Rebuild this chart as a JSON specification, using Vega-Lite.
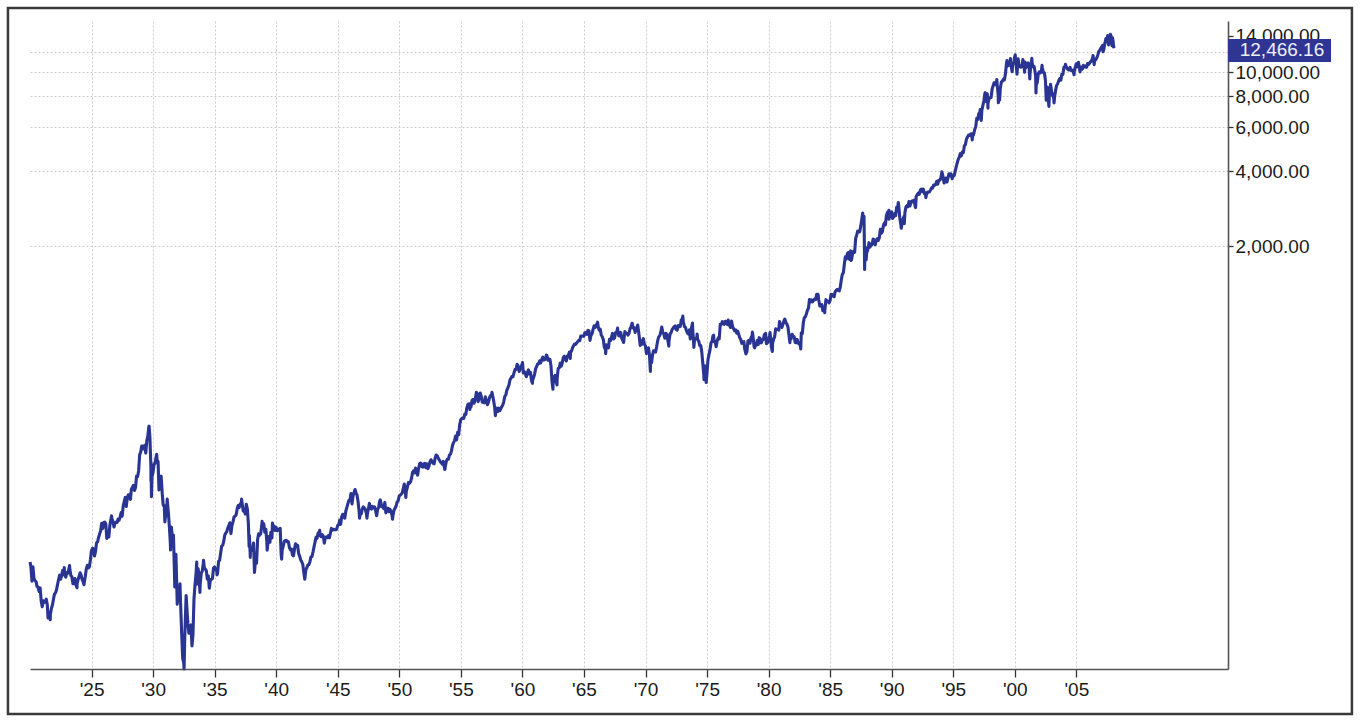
{
"$schema": "https://vega.github.io/schema/vega-lite/v6.json",
"width": 1198,
"height": 648,
"autosize": {"type": "none"},
"padding": {"left": 30, "top": 21, "right": 133, "bottom": 54},
"background": "white",
"config": {"view": {"stroke": null}, "font": "Liberation Sans"},
"datasets": {"dow": [
{"d":"1920-01-03","v":108.8},{"d":"1920-01-28","v":104.2},{"d":"1920-02-28","v":91.2},{"d":"1920-03-28","v":104.2},{"d":"1920-04-28","v":93.5},{"d":"1920-05-28","v":91.8},{"d":"1920-06-28","v":90.8},{"d":"1920-07-28","v":86.9},{"d":"1920-08-28","v":86.2},{"d":"1920-09-28","v":82.9},{"d":"1920-10-28","v":85.7},{"d":"1920-11-28","v":76.0},{"d":"1920-12-28","v":72.0},
{"d":"1921-01-28","v":76.1},{"d":"1921-02-28","v":74.9},{"d":"1921-03-28","v":75.8},{"d":"1921-04-28","v":77.3},{"d":"1921-05-28","v":73.4},{"d":"1921-06-20","v":64.9},{"d":"1921-06-28","v":68.5},{"d":"1921-07-28","v":68.4},{"d":"1921-08-24","v":63.9},{"d":"1921-08-28","v":67.1},{"d":"1921-09-28","v":71.1},{"d":"1921-10-28","v":73.2},{"d":"1921-11-28","v":77.3},{"d":"1921-12-28","v":81.1},
{"d":"1922-01-28","v":82.0},{"d":"1922-02-28","v":84.5},{"d":"1922-03-28","v":88.5},{"d":"1922-04-28","v":92.6},{"d":"1922-05-28","v":96.4},{"d":"1922-06-28","v":92.9},{"d":"1922-07-28","v":96.1},{"d":"1922-08-28","v":100.8},{"d":"1922-09-28","v":97.0},{"d":"1922-10-14","v":103.4},{"d":"1922-10-28","v":96.1},{"d":"1922-11-28","v":94.7},{"d":"1922-12-28","v":98.7},
{"d":"1923-01-28","v":98.1},{"d":"1923-02-28","v":102.4},{"d":"1923-03-20","v":105.4},{"d":"1923-03-28","v":101.7},{"d":"1923-04-28","v":96.2},{"d":"1923-05-28","v":95.1},{"d":"1923-06-28","v":89.1},{"d":"1923-07-28","v":89.2},{"d":"1923-08-28","v":93.5},{"d":"1923-09-28","v":87.9},{"d":"1923-10-27","v":85.8},{"d":"1923-10-29","v":89.1},{"d":"1923-11-28","v":92.6},{"d":"1923-12-28","v":95.5},
{"d":"1924-01-28","v":98.6},{"d":"1924-02-28","v":96.3},{"d":"1924-03-28","v":92.5},{"d":"1924-04-28","v":90.6},{"d":"1924-05-20","v":88.3},{"d":"1924-05-28","v":90.0},{"d":"1924-06-28","v":95.3},{"d":"1924-07-28","v":102.1},{"d":"1924-08-28","v":105.6},{"d":"1924-09-28","v":103.0},{"d":"1924-10-28","v":104.1},{"d":"1924-11-28","v":111.4},{"d":"1924-12-28","v":120.5},
{"d":"1925-01-28","v":123.6},{"d":"1925-02-28","v":122.9},{"d":"1925-03-28","v":115.0},{"d":"1925-04-28","v":120.0},{"d":"1925-05-28","v":129.9},{"d":"1925-06-28","v":131.0},{"d":"1925-07-28","v":136.5},{"d":"1925-08-28","v":141.2},{"d":"1925-09-28","v":145.2},{"d":"1925-10-28","v":155.7},{"d":"1925-11-28","v":148.2},{"d":"1925-12-28","v":156.7},
{"d":"1926-01-28","v":157.4},{"d":"1926-02-28","v":154.7},{"d":"1926-03-28","v":135.2},{"d":"1926-04-28","v":142.5},{"d":"1926-05-28","v":137.2},{"d":"1926-06-28","v":152.7},{"d":"1926-07-28","v":160.6},{"d":"1926-08-14","v":166.6},{"d":"1926-08-28","v":162.5},{"d":"1926-09-28","v":158.2},{"d":"1926-10-28","v":150.4},{"d":"1926-11-28","v":155.8},{"d":"1926-12-28","v":157.2},
{"d":"1927-01-28","v":156.7},{"d":"1927-02-28","v":161.9},{"d":"1927-03-28","v":160.1},{"d":"1927-04-28","v":164.6},{"d":"1927-05-28","v":171.8},{"d":"1927-06-28","v":166.2},{"d":"1927-07-28","v":182.4},{"d":"1927-08-28","v":190.6},{"d":"1927-09-28","v":197.6},{"d":"1927-10-28","v":181.7},{"d":"1927-11-28","v":197.8},{"d":"1927-12-28","v":202.4},
{"d":"1928-01-28","v":198.6},{"d":"1928-02-28","v":194.1},{"d":"1928-03-28","v":213.5},{"d":"1928-04-28","v":216.9},{"d":"1928-05-28","v":220.9},{"d":"1928-06-28","v":210.8},{"d":"1928-07-28","v":216.6},{"d":"1928-08-28","v":240.4},{"d":"1928-09-28","v":239.4},{"d":"1928-10-28","v":252.2},{"d":"1928-11-28","v":293.4},{"d":"1928-12-28","v":300.0},
{"d":"1929-01-28","v":317.5},{"d":"1929-02-28","v":317.4},{"d":"1929-03-28","v":308.9},{"d":"1929-04-28","v":319.3},{"d":"1929-05-28","v":297.4},{"d":"1929-06-28","v":333.8},{"d":"1929-07-28","v":347.7},{"d":"1929-08-28","v":380.3},{"d":"1929-09-03","v":381.2},{"d":"1929-09-28","v":343.5},{"d":"1929-10-28","v":260.6},{"d":"1929-10-29","v":230.1},{"d":"1929-10-31","v":273.5},{"d":"1929-11-13","v":198.7},{"d":"1929-11-28","v":238.9},{"d":"1929-12-28","v":248.5},
{"d":"1930-01-28","v":267.1},{"d":"1930-02-28","v":271.1},{"d":"1930-03-28","v":286.1},{"d":"1930-04-17","v":294.1},{"d":"1930-04-28","v":279.2},{"d":"1930-05-28","v":275.1},{"d":"1930-06-24","v":211.8},{"d":"1930-06-28","v":226.3},{"d":"1930-07-28","v":233.5},{"d":"1930-08-28","v":240.4},{"d":"1930-09-28","v":204.9},{"d":"1930-10-28","v":183.4},{"d":"1930-11-28","v":183.4},{"d":"1930-12-16","v":157.5},{"d":"1930-12-28","v":164.6},
{"d":"1931-01-28","v":167.6},{"d":"1931-02-24","v":194.4},{"d":"1931-02-28","v":189.7},{"d":"1931-03-28","v":172.4},{"d":"1931-04-28","v":151.2},{"d":"1931-05-28","v":128.5},{"d":"1931-06-02","v":121.7},{"d":"1931-06-28","v":150.2},{"d":"1931-07-28","v":135.4},{"d":"1931-08-28","v":139.4},{"d":"1931-09-28","v":96.6},{"d":"1931-10-05","v":86.5},{"d":"1931-10-28","v":105.4},{"d":"1931-11-09","v":116.8},{"d":"1931-11-28","v":93.9},{"d":"1931-12-17","v":73.8},{"d":"1931-12-28","v":77.9},
{"d":"1932-01-28","v":76.2},{"d":"1932-02-28","v":81.4},{"d":"1932-03-08","v":89.0},{"d":"1932-03-28","v":73.3},{"d":"1932-04-28","v":56.1},{"d":"1932-05-28","v":44.7},{"d":"1932-06-28","v":42.8},{"d":"1932-07-08","v":40.6},{"d":"1932-07-28","v":54.3},{"d":"1932-08-28","v":73.2},{"d":"1932-09-07","v":79.9},{"d":"1932-09-28","v":71.6},{"d":"1932-10-28","v":61.9},{"d":"1932-11-28","v":56.4},{"d":"1932-12-28","v":59.9},
{"d":"1933-01-28","v":60.9},{"d":"1933-02-27","v":50.2},{"d":"1933-03-28","v":55.7},{"d":"1933-04-28","v":77.7},{"d":"1933-05-28","v":88.1},{"d":"1933-06-28","v":98.1},{"d":"1933-07-18","v":108.7},{"d":"1933-07-21","v":88.7},{"d":"1933-07-28","v":90.8},{"d":"1933-08-28","v":102.4},{"d":"1933-09-28","v":94.8},{"d":"1933-10-21","v":82.2},{"d":"1933-10-28","v":88.2},{"d":"1933-11-28","v":98.1},{"d":"1933-12-28","v":99.9},
{"d":"1934-01-28","v":107.2},{"d":"1934-02-05","v":110.7},{"d":"1934-02-28","v":103.5},{"d":"1934-03-28","v":101.9},{"d":"1934-04-28","v":100.5},{"d":"1934-05-28","v":93.0},{"d":"1934-06-28","v":95.7},{"d":"1934-07-26","v":85.5},{"d":"1934-08-28","v":92.6},{"d":"1934-09-28","v":92.6},{"d":"1934-10-28","v":93.5},{"d":"1934-11-28","v":102.9},{"d":"1934-12-28","v":104.0},
{"d":"1935-01-28","v":101.7},{"d":"1935-02-28","v":100.8},{"d":"1935-03-14","v":96.7},{"d":"1935-03-28","v":98.0},{"d":"1935-04-28","v":109.5},{"d":"1935-05-28","v":110.6},{"d":"1935-06-28","v":118.2},{"d":"1935-07-28","v":126.2},{"d":"1935-08-28","v":127.0},{"d":"1935-09-28","v":131.9},{"d":"1935-10-28","v":139.7},{"d":"1935-11-28","v":142.3},{"d":"1935-12-28","v":144.1},
{"d":"1936-01-28","v":149.5},{"d":"1936-02-28","v":152.5},{"d":"1936-03-28","v":156.3},{"d":"1936-04-28","v":141.5},{"d":"1936-05-28","v":152.6},{"d":"1936-06-28","v":157.7},{"d":"1936-07-28","v":164.9},{"d":"1936-08-28","v":166.3},{"d":"1936-09-28","v":167.8},{"d":"1936-10-28","v":177.2},{"d":"1936-11-28","v":183.3},{"d":"1936-12-28","v":179.9},
{"d":"1937-01-28","v":186.1},{"d":"1937-02-28","v":187.2},{"d":"1937-03-10","v":194.4},{"d":"1937-03-28","v":186.4},{"d":"1937-04-28","v":174.3},{"d":"1937-05-28","v":174.7},{"d":"1937-06-28","v":169.3},{"d":"1937-07-28","v":185.5},{"d":"1937-08-28","v":177.4},{"d":"1937-09-28","v":154.6},{"d":"1937-10-19","v":125.7},{"d":"1937-10-28","v":138.8},{"d":"1937-11-24","v":113.6},{"d":"1937-11-28","v":123.5},{"d":"1937-12-28","v":121.0},
{"d":"1938-01-28","v":121.9},{"d":"1938-02-28","v":129.6},{"d":"1938-03-28","v":98.9},{"d":"1938-04-28","v":111.7},{"d":"1938-05-28","v":107.7},{"d":"1938-06-28","v":133.9},{"d":"1938-07-28","v":141.2},{"d":"1938-08-28","v":139.3},{"d":"1938-09-28","v":141.5},{"d":"1938-10-28","v":151.7},{"d":"1938-11-10","v":158.4},{"d":"1938-11-28","v":149.8},{"d":"1938-12-28","v":154.8},
{"d":"1939-01-28","v":143.3},{"d":"1939-02-28","v":147.3},{"d":"1939-03-28","v":131.8},{"d":"1939-04-08","v":121.4},{"d":"1939-04-28","v":128.5},{"d":"1939-05-28","v":137.7},{"d":"1939-06-28","v":130.6},{"d":"1939-07-28","v":143.3},{"d":"1939-08-28","v":136.0},{"d":"1939-09-12","v":155.9},{"d":"1939-09-28","v":152.5},{"d":"1939-10-28","v":151.7},{"d":"1939-11-28","v":145.7},{"d":"1939-12-28","v":150.2},
{"d":"1940-01-28","v":145.3},{"d":"1940-02-28","v":146.5},{"d":"1940-03-28","v":147.5},{"d":"1940-04-28","v":148.4},{"d":"1940-05-28","v":116.2},{"d":"1940-06-10","v":111.8},{"d":"1940-06-28","v":121.9},{"d":"1940-07-28","v":126.1},{"d":"1940-08-28","v":131.7},{"d":"1940-09-28","v":132.6},{"d":"1940-10-28","v":133.0},{"d":"1940-11-28","v":131.0},{"d":"1940-12-28","v":131.1},
{"d":"1941-01-28","v":124.1},{"d":"1941-02-28","v":121.8},{"d":"1941-03-28","v":122.7},{"d":"1941-04-28","v":116.2},{"d":"1941-05-28","v":115.3},{"d":"1941-06-28","v":123.1},{"d":"1941-07-28","v":128.8},{"d":"1941-08-28","v":127.4},{"d":"1941-09-28","v":126.8},{"d":"1941-10-28","v":117.8},{"d":"1941-11-28","v":114.7},{"d":"1941-12-28","v":111.0},
{"d":"1942-01-28","v":109.1},{"d":"1942-02-28","v":106.6},{"d":"1942-03-28","v":99.5},{"d":"1942-04-28","v":92.9},{"d":"1942-05-28","v":100.9},{"d":"1942-06-28","v":103.3},{"d":"1942-07-28","v":105.7},{"d":"1942-08-28","v":106.3},{"d":"1942-09-28","v":109.1},{"d":"1942-10-28","v":114.1},{"d":"1942-11-28","v":114.5},{"d":"1942-12-28","v":119.4},
{"d":"1943-01-28","v":125.4},{"d":"1943-02-28","v":131.0},{"d":"1943-03-28","v":136.6},{"d":"1943-04-28","v":135.5},{"d":"1943-05-28","v":142.1},{"d":"1943-06-28","v":143.4},{"d":"1943-07-14","v":145.8},{"d":"1943-07-28","v":138.9},{"d":"1943-08-28","v":137.5},{"d":"1943-09-28","v":140.1},{"d":"1943-10-28","v":138.3},{"d":"1943-11-28","v":129.6},{"d":"1943-12-28","v":135.9},
{"d":"1944-01-28","v":137.4},{"d":"1944-02-28","v":136.3},{"d":"1944-03-28","v":138.8},{"d":"1944-04-28","v":136.2},{"d":"1944-05-28","v":142.2},{"d":"1944-06-28","v":148.4},{"d":"1944-07-28","v":146.1},{"d":"1944-08-28","v":147.2},{"d":"1944-09-28","v":146.7},{"d":"1944-10-28","v":146.5},{"d":"1944-11-28","v":147.3},{"d":"1944-12-28","v":152.3},
{"d":"1945-01-28","v":153.8},{"d":"1945-02-28","v":160.4},{"d":"1945-03-28","v":154.1},{"d":"1945-04-28","v":165.4},{"d":"1945-05-28","v":169.1},{"d":"1945-06-28","v":164.8},{"d":"1945-07-28","v":163.1},{"d":"1945-08-28","v":174.3},{"d":"1945-09-28","v":180.2},{"d":"1945-10-28","v":186.6},{"d":"1945-11-28","v":192.0},{"d":"1945-12-28","v":192.9},
{"d":"1946-01-28","v":204.7},{"d":"1946-02-26","v":186.0},{"d":"1946-03-28","v":199.6},{"d":"1946-04-28","v":206.8},{"d":"1946-05-29","v":212.5},{"d":"1946-06-28","v":205.6},{"d":"1946-07-28","v":201.6},{"d":"1946-08-28","v":189.2},{"d":"1946-09-28","v":172.4},{"d":"1946-10-09","v":163.1},{"d":"1946-10-28","v":169.2},{"d":"1946-11-28","v":169.8},{"d":"1946-12-28","v":177.2},
{"d":"1947-01-28","v":181.1},{"d":"1947-02-28","v":178.9},{"d":"1947-03-28","v":177.2},{"d":"1947-04-28","v":170.6},{"d":"1947-05-17","v":163.2},{"d":"1947-05-28","v":169.3},{"d":"1947-06-28","v":177.3},{"d":"1947-07-28","v":186.9},{"d":"1947-08-28","v":179.0},{"d":"1947-09-28","v":177.5},{"d":"1947-10-28","v":181.8},{"d":"1947-11-28","v":179.4},{"d":"1947-12-28","v":181.2},
{"d":"1948-01-28","v":175.1},{"d":"1948-02-28","v":166.8},{"d":"1948-03-28","v":177.2},{"d":"1948-04-28","v":180.1},{"d":"1948-05-28","v":190.7},{"d":"1948-06-15","v":193.2},{"d":"1948-06-28","v":189.5},{"d":"1948-07-28","v":181.3},{"d":"1948-08-28","v":181.7},{"d":"1948-09-28","v":178.3},{"d":"1948-10-28","v":188.6},{"d":"1948-11-28","v":171.2},{"d":"1948-12-28","v":177.3},
{"d":"1949-01-28","v":179.1},{"d":"1949-02-28","v":173.1},{"d":"1949-03-28","v":177.1},{"d":"1949-04-28","v":174.2},{"d":"1949-05-28","v":168.4},{"d":"1949-06-13","v":161.6},{"d":"1949-06-28","v":167.4},{"d":"1949-07-28","v":175.9},{"d":"1949-08-28","v":178.7},{"d":"1949-09-28","v":182.5},{"d":"1949-10-28","v":189.5},{"d":"1949-11-28","v":191.6},{"d":"1949-12-28","v":200.1},
{"d":"1950-01-28","v":201.8},{"d":"1950-02-28","v":203.4},{"d":"1950-03-28","v":206.1},{"d":"1950-04-28","v":214.3},{"d":"1950-05-28","v":223.4},{"d":"1950-06-28","v":209.1},{"d":"1950-07-13","v":197.5},{"d":"1950-07-28","v":209.4},{"d":"1950-08-28","v":216.9},{"d":"1950-09-28","v":226.4},{"d":"1950-10-28","v":225.0},{"d":"1950-11-28","v":227.6},{"d":"1950-12-28","v":235.4},
{"d":"1951-01-28","v":248.8},{"d":"1951-02-28","v":252.1},{"d":"1951-03-28","v":247.9},{"d":"1951-04-28","v":259.1},{"d":"1951-05-28","v":249.7},{"d":"1951-06-28","v":242.6},{"d":"1951-07-28","v":257.9},{"d":"1951-08-28","v":270.3},{"d":"1951-09-28","v":271.2},{"d":"1951-10-28","v":262.4},{"d":"1951-11-28","v":261.3},{"d":"1951-12-28","v":269.2},
{"d":"1952-01-28","v":270.7},{"d":"1952-02-28","v":260.1},{"d":"1952-03-28","v":269.5},{"d":"1952-04-28","v":257.6},{"d":"1952-05-28","v":262.9},{"d":"1952-06-28","v":274.3},{"d":"1952-07-28","v":279.6},{"d":"1952-08-28","v":275.0},{"d":"1952-09-28","v":271.0},{"d":"1952-10-28","v":269.2},{"d":"1952-11-28","v":283.7},{"d":"1952-12-28","v":291.9},
{"d":"1953-01-28","v":290.0},{"d":"1953-02-28","v":284.3},{"d":"1953-03-28","v":279.9},{"d":"1953-04-28","v":274.8},{"d":"1953-05-28","v":272.3},{"d":"1953-06-28","v":268.3},{"d":"1953-07-28","v":275.4},{"d":"1953-08-28","v":261.2},{"d":"1953-09-14","v":255.5},{"d":"1953-09-28","v":264.0},{"d":"1953-10-28","v":276.0},{"d":"1953-11-28","v":281.4},{"d":"1953-12-28","v":280.9},
{"d":"1954-01-28","v":292.4},{"d":"1954-02-28","v":294.5},{"d":"1954-03-28","v":303.5},{"d":"1954-04-28","v":319.3},{"d":"1954-05-28","v":327.5},{"d":"1954-06-28","v":333.5},{"d":"1954-07-28","v":347.9},{"d":"1954-08-28","v":335.8},{"d":"1954-09-28","v":360.5},{"d":"1954-10-28","v":352.1},{"d":"1954-11-28","v":386.8},{"d":"1954-12-28","v":404.4},
{"d":"1955-01-28","v":408.8},{"d":"1955-02-28","v":411.9},{"d":"1955-03-28","v":409.7},{"d":"1955-04-28","v":425.7},{"d":"1955-05-28","v":424.9},{"d":"1955-06-28","v":451.4},{"d":"1955-07-28","v":465.9},{"d":"1955-08-28","v":468.2},{"d":"1955-09-26","v":444.6},{"d":"1955-09-28","v":466.6},{"d":"1955-10-28","v":454.9},{"d":"1955-11-28","v":483.3},{"d":"1955-12-28","v":488.4},
{"d":"1956-01-28","v":470.7},{"d":"1956-02-28","v":483.7},{"d":"1956-03-28","v":511.8},{"d":"1956-04-06","v":521.0},{"d":"1956-04-28","v":516.1},{"d":"1956-05-28","v":478.1},{"d":"1956-06-28","v":492.8},{"d":"1956-07-28","v":517.8},{"d":"1956-08-28","v":502.0},{"d":"1956-09-28","v":475.3},{"d":"1956-10-28","v":479.9},{"d":"1956-11-28","v":472.8},{"d":"1956-12-28","v":499.5},
{"d":"1957-01-28","v":479.2},{"d":"1957-02-28","v":464.6},{"d":"1957-03-28","v":474.8},{"d":"1957-04-28","v":494.4},{"d":"1957-05-28","v":504.9},{"d":"1957-06-28","v":503.3},{"d":"1957-07-12","v":520.8},{"d":"1957-07-28","v":508.5},{"d":"1957-08-28","v":484.4},{"d":"1957-09-28","v":456.3},{"d":"1957-10-22","v":419.8},{"d":"1957-10-28","v":441.0},{"d":"1957-11-28","v":449.9},{"d":"1957-12-28","v":435.7},
{"d":"1958-01-28","v":450.0},{"d":"1958-02-28","v":439.9},{"d":"1958-03-28","v":446.8},{"d":"1958-04-28","v":455.9},{"d":"1958-05-28","v":462.7},{"d":"1958-06-28","v":478.2},{"d":"1958-07-28","v":502.0},{"d":"1958-08-28","v":508.6},{"d":"1958-09-28","v":532.1},{"d":"1958-10-28","v":543.2},{"d":"1958-11-28","v":557.5},{"d":"1958-12-28","v":583.7},
{"d":"1959-01-28","v":594.0},{"d":"1959-02-28","v":603.5},{"d":"1959-03-28","v":601.7},{"d":"1959-04-28","v":624.1},{"d":"1959-05-28","v":643.8},{"d":"1959-06-28","v":643.6},{"d":"1959-07-28","v":674.9},{"d":"1959-08-28","v":664.4},{"d":"1959-09-28","v":631.7},{"d":"1959-10-28","v":646.6},{"d":"1959-11-28","v":659.2},{"d":"1959-12-28","v":679.4},
{"d":"1960-01-05","v":685.5},{"d":"1960-01-28","v":622.6},{"d":"1960-02-28","v":630.1},{"d":"1960-03-28","v":616.6},{"d":"1960-04-28","v":601.7},{"d":"1960-05-28","v":625.5},{"d":"1960-06-28","v":640.6},{"d":"1960-07-28","v":616.7},{"d":"1960-08-28","v":626.0},{"d":"1960-09-28","v":580.1},{"d":"1960-10-25","v":566.1},{"d":"1960-10-28","v":580.4},{"d":"1960-11-28","v":597.2},{"d":"1960-12-28","v":615.9},
{"d":"1961-01-28","v":648.2},{"d":"1961-02-28","v":662.1},{"d":"1961-03-28","v":676.6},{"d":"1961-04-28","v":678.7},{"d":"1961-05-28","v":696.7},{"d":"1961-06-28","v":684.0},{"d":"1961-07-28","v":705.4},{"d":"1961-08-28","v":719.9},{"d":"1961-09-28","v":701.2},{"d":"1961-10-28","v":703.9},{"d":"1961-11-28","v":721.6},{"d":"1961-12-13","v":734.9},{"d":"1961-12-28","v":731.1},
{"d":"1962-01-28","v":700.0},{"d":"1962-02-28","v":708.1},{"d":"1962-03-28","v":707.0},{"d":"1962-04-28","v":665.3},{"d":"1962-05-28","v":576.9},{"d":"1962-06-26","v":535.8},{"d":"1962-06-28","v":561.3},{"d":"1962-07-28","v":597.9},{"d":"1962-08-28","v":609.2},{"d":"1962-09-28","v":579.0},{"d":"1962-10-23","v":558.1},{"d":"1962-10-28","v":589.8},{"d":"1962-11-28","v":649.3},{"d":"1962-12-28","v":652.1},
{"d":"1963-01-28","v":682.9},{"d":"1963-02-28","v":662.9},{"d":"1963-03-28","v":682.5},{"d":"1963-04-28","v":717.7},{"d":"1963-05-28","v":727.0},{"d":"1963-06-28","v":706.9},{"d":"1963-07-28","v":695.4},{"d":"1963-08-28","v":729.3},{"d":"1963-09-28","v":732.8},{"d":"1963-10-28","v":755.2},{"d":"1963-11-22","v":711.5},{"d":"1963-11-28","v":750.5},{"d":"1963-12-28","v":763.0},
{"d":"1964-01-28","v":785.3},{"d":"1964-02-28","v":800.1},{"d":"1964-03-28","v":813.3},{"d":"1964-04-28","v":810.8},{"d":"1964-05-28","v":820.6},{"d":"1964-06-28","v":831.5},{"d":"1964-07-28","v":841.1},{"d":"1964-08-28","v":838.5},{"d":"1964-09-28","v":875.4},{"d":"1964-10-28","v":873.1},{"d":"1964-11-28","v":875.4},{"d":"1964-12-28","v":874.1},
{"d":"1965-01-28","v":902.9},{"d":"1965-02-28","v":903.5},{"d":"1965-03-28","v":889.1},{"d":"1965-04-28","v":922.3},{"d":"1965-05-28","v":918.0},{"d":"1965-06-28","v":840.6},{"d":"1965-07-28","v":881.7},{"d":"1965-08-28","v":893.1},{"d":"1965-09-28","v":930.6},{"d":"1965-10-28","v":960.8},{"d":"1965-11-28","v":946.7},{"d":"1965-12-28","v":969.3},
{"d":"1966-01-28","v":983.5},{"d":"1966-02-09","v":995.2},{"d":"1966-02-28","v":951.9},{"d":"1966-03-28","v":924.8},{"d":"1966-04-28","v":933.7},{"d":"1966-05-28","v":884.1},{"d":"1966-06-28","v":870.1},{"d":"1966-07-28","v":847.4},{"d":"1966-08-28","v":788.4},{"d":"1966-09-28","v":774.2},{"d":"1966-10-07","v":744.3},{"d":"1966-10-28","v":807.1},{"d":"1966-11-28","v":791.6},{"d":"1966-12-28","v":785.7},
{"d":"1967-01-28","v":849.9},{"d":"1967-02-28","v":839.4},{"d":"1967-03-28","v":866.0},{"d":"1967-04-28","v":897.1},{"d":"1967-05-28","v":852.6},{"d":"1967-06-28","v":860.3},{"d":"1967-07-28","v":904.2},{"d":"1967-08-28","v":901.3},{"d":"1967-09-25","v":943.1},{"d":"1967-09-28","v":926.7},{"d":"1967-10-28","v":879.7},{"d":"1967-11-28","v":875.8},{"d":"1967-12-28","v":905.1},
{"d":"1968-01-28","v":855.5},{"d":"1968-02-28","v":840.5},{"d":"1968-03-21","v":825.1},{"d":"1968-03-28","v":840.7},{"d":"1968-04-28","v":912.2},{"d":"1968-05-28","v":899.0},{"d":"1968-06-28","v":897.8},{"d":"1968-07-28","v":883.0},{"d":"1968-08-28","v":896.0},{"d":"1968-09-28","v":935.8},{"d":"1968-10-28","v":952.4},{"d":"1968-11-28","v":985.1},{"d":"1968-12-03","v":985.2},{"d":"1968-12-28","v":943.8},
{"d":"1969-01-28","v":946.1},{"d":"1969-02-28","v":905.2},{"d":"1969-03-28","v":935.5},{"d":"1969-04-28","v":950.2},{"d":"1969-05-14","v":968.9},{"d":"1969-05-28","v":937.6},{"d":"1969-06-28","v":873.2},{"d":"1969-07-28","v":802.0},{"d":"1969-08-28","v":836.7},{"d":"1969-09-28","v":813.1},{"d":"1969-10-28","v":856.0},{"d":"1969-11-28","v":812.3},{"d":"1969-12-28","v":800.4},
{"d":"1970-01-28","v":744.1},{"d":"1970-02-28","v":777.6},{"d":"1970-03-28","v":785.6},{"d":"1970-04-28","v":736.1},{"d":"1970-05-26","v":631.2},{"d":"1970-05-28","v":700.4},{"d":"1970-06-28","v":683.5},{"d":"1970-07-28","v":734.1},{"d":"1970-08-28","v":764.6},{"d":"1970-09-28","v":760.7},{"d":"1970-10-28","v":755.6},{"d":"1970-11-28","v":794.1},{"d":"1970-12-28","v":838.9},
{"d":"1971-01-28","v":868.5},{"d":"1971-02-28","v":878.8},{"d":"1971-03-28","v":904.4},{"d":"1971-04-28","v":950.8},{"d":"1971-05-28","v":907.8},{"d":"1971-06-28","v":891.1},{"d":"1971-07-28","v":858.4},{"d":"1971-08-28","v":898.1},{"d":"1971-09-28","v":887.2},{"d":"1971-10-28","v":839.0},{"d":"1971-11-23","v":798.0},{"d":"1971-11-28","v":831.3},{"d":"1971-12-28","v":890.2},
{"d":"1972-01-28","v":902.2},{"d":"1972-02-28","v":928.1},{"d":"1972-03-28","v":940.7},{"d":"1972-04-28","v":954.2},{"d":"1972-05-28","v":960.7},{"d":"1972-06-28","v":929.0},{"d":"1972-07-28","v":924.7},{"d":"1972-08-28","v":963.7},{"d":"1972-09-28","v":953.3},{"d":"1972-10-28","v":955.5},{"d":"1972-11-28","v":1018.2},{"d":"1972-12-28","v":1020.0},
{"d":"1973-01-11","v":1051.7},{"d":"1973-01-28","v":999.0},{"d":"1973-02-28","v":955.1},{"d":"1973-03-28","v":951.0},{"d":"1973-04-28","v":921.4},{"d":"1973-05-28","v":901.4},{"d":"1973-06-28","v":891.7},{"d":"1973-07-28","v":926.4},{"d":"1973-08-22","v":851.9},{"d":"1973-08-28","v":887.6},{"d":"1973-09-28","v":947.1},{"d":"1973-10-26","v":987.1},{"d":"1973-10-28","v":956.6},{"d":"1973-11-28","v":822.3},{"d":"1973-12-05","v":788.3},{"d":"1973-12-28","v":850.9},
{"d":"1974-01-28","v":855.6},{"d":"1974-02-28","v":860.5},{"d":"1974-03-13","v":891.7},{"d":"1974-03-28","v":846.7},{"d":"1974-04-28","v":836.8},{"d":"1974-05-28","v":802.2},{"d":"1974-06-28","v":802.4},{"d":"1974-07-28","v":757.4},{"d":"1974-08-28","v":678.6},{"d":"1974-09-28","v":607.9},{"d":"1974-10-03","v":584.6},{"d":"1974-10-28","v":665.5},{"d":"1974-11-28","v":618.7},{"d":"1974-12-06","v":570.0},{"d":"1974-12-28","v":616.2},
{"d":"1975-01-28","v":703.7},{"d":"1975-02-28","v":739.1},{"d":"1975-03-28","v":768.2},{"d":"1975-04-28","v":821.3},{"d":"1975-05-28","v":832.3},{"d":"1975-06-28","v":879.0},{"d":"1975-07-15","v":881.8},{"d":"1975-07-28","v":831.5},{"d":"1975-08-28","v":835.3},{"d":"1975-09-28","v":793.9},{"d":"1975-10-28","v":836.0},{"d":"1975-11-28","v":860.7},{"d":"1975-12-28","v":852.4},
{"d":"1976-01-28","v":975.3},{"d":"1976-02-28","v":972.6},{"d":"1976-03-28","v":999.5},{"d":"1976-04-28","v":996.9},{"d":"1976-05-28","v":975.2},{"d":"1976-06-28","v":1002.8},{"d":"1976-07-28","v":984.6},{"d":"1976-08-28","v":973.7},{"d":"1976-09-21","v":1014.8},{"d":"1976-09-28","v":990.2},{"d":"1976-10-28","v":964.9},{"d":"1976-11-28","v":947.2},{"d":"1976-12-28","v":1004.7},
{"d":"1977-01-28","v":954.4},{"d":"1977-02-28","v":936.4},{"d":"1977-03-28","v":919.1},{"d":"1977-04-28","v":926.9},{"d":"1977-05-28","v":899.0},{"d":"1977-06-28","v":916.3},{"d":"1977-07-28","v":890.1},{"d":"1977-08-28","v":861.5},{"d":"1977-09-28","v":847.1},{"d":"1977-10-28","v":818.4},{"d":"1977-11-28","v":829.7},{"d":"1977-12-28","v":831.2},
{"d":"1978-01-28","v":769.9},{"d":"1978-02-28","v":742.1},{"d":"1978-03-28","v":757.4},{"d":"1978-04-28","v":837.3},{"d":"1978-05-28","v":840.6},{"d":"1978-06-28","v":819.0},{"d":"1978-07-28","v":862.3},{"d":"1978-08-28","v":876.8},{"d":"1978-09-08","v":907.7},{"d":"1978-09-28","v":865.8},{"d":"1978-10-28","v":792.5},{"d":"1978-11-14","v":785.3},{"d":"1978-11-28","v":799.0},{"d":"1978-12-28","v":805.0},
{"d":"1979-01-28","v":839.2},{"d":"1979-02-28","v":808.8},{"d":"1979-03-28","v":862.2},{"d":"1979-04-28","v":854.9},{"d":"1979-05-28","v":822.3},{"d":"1979-06-28","v":842.0},{"d":"1979-07-28","v":846.4},{"d":"1979-08-28","v":887.6},{"d":"1979-09-28","v":878.6},{"d":"1979-10-05","v":897.6},{"d":"1979-10-28","v":815.7},{"d":"1979-11-28","v":822.4},{"d":"1979-12-28","v":838.7},
{"d":"1980-01-28","v":875.9},{"d":"1980-02-13","v":903.8},{"d":"1980-02-28","v":863.1},{"d":"1980-03-28","v":785.8},{"d":"1980-04-21","v":759.1},{"d":"1980-04-28","v":817.1},{"d":"1980-05-28","v":850.9},{"d":"1980-06-28","v":867.9},{"d":"1980-07-28","v":935.3},{"d":"1980-08-28","v":932.6},{"d":"1980-09-28","v":932.4},{"d":"1980-10-28","v":924.5},{"d":"1980-11-20","v":1000.2},{"d":"1980-11-28","v":993.3},{"d":"1980-12-28","v":964.0},
{"d":"1981-01-28","v":947.3},{"d":"1981-02-28","v":974.6},{"d":"1981-03-28","v":1003.9},{"d":"1981-04-27","v":1024.1},{"d":"1981-05-28","v":991.8},{"d":"1981-06-28","v":976.9},{"d":"1981-07-28","v":952.3},{"d":"1981-08-28","v":881.5},{"d":"1981-09-25","v":824.0},{"d":"1981-09-28","v":850.0},{"d":"1981-10-28","v":852.6},{"d":"1981-11-28","v":889.0},{"d":"1981-12-28","v":875.0},
{"d":"1982-01-28","v":871.1},{"d":"1982-02-28","v":824.4},{"d":"1982-03-28","v":822.8},{"d":"1982-04-28","v":848.4},{"d":"1982-05-28","v":819.5},{"d":"1982-06-28","v":811.9},{"d":"1982-07-28","v":808.6},{"d":"1982-08-12","v":776.9},{"d":"1982-08-28","v":901.3},{"d":"1982-09-28","v":896.3},{"d":"1982-10-28","v":991.7},{"d":"1982-11-28","v":1039.3},{"d":"1982-12-28","v":1046.5},
{"d":"1983-01-28","v":1075.7},{"d":"1983-02-28","v":1112.6},{"d":"1983-03-28","v":1130.0},{"d":"1983-04-28","v":1226.2},{"d":"1983-05-28","v":1200.0},{"d":"1983-06-28","v":1222.0},{"d":"1983-07-28","v":1199.2},{"d":"1983-08-28","v":1216.2},{"d":"1983-09-28","v":1233.1},{"d":"1983-10-28","v":1225.2},{"d":"1983-11-28","v":1287.2},{"d":"1983-12-28","v":1258.6},
{"d":"1984-01-06","v":1286.6},{"d":"1984-01-28","v":1220.6},{"d":"1984-02-28","v":1154.6},{"d":"1984-03-28","v":1164.9},{"d":"1984-04-28","v":1170.8},{"d":"1984-05-28","v":1104.9},{"d":"1984-06-28","v":1132.4},{"d":"1984-07-24","v":1086.6},{"d":"1984-07-28","v":1115.3},{"d":"1984-08-28","v":1224.4},{"d":"1984-09-28","v":1206.7},{"d":"1984-10-28","v":1207.4},{"d":"1984-11-28","v":1188.9},{"d":"1984-12-28","v":1211.6},
{"d":"1985-01-28","v":1286.8},{"d":"1985-02-28","v":1284.0},{"d":"1985-03-28","v":1266.8},{"d":"1985-04-28","v":1258.1},{"d":"1985-05-28","v":1315.4},{"d":"1985-06-28","v":1335.5},{"d":"1985-07-28","v":1347.5},{"d":"1985-08-28","v":1334.0},{"d":"1985-09-28","v":1328.6},{"d":"1985-10-28","v":1374.3},{"d":"1985-11-28","v":1472.1},{"d":"1985-12-28","v":1546.7},
{"d":"1986-01-28","v":1571.0},{"d":"1986-02-28","v":1709.1},{"d":"1986-03-28","v":1818.6},{"d":"1986-04-28","v":1784.0},{"d":"1986-05-28","v":1876.7},{"d":"1986-06-28","v":1892.7},{"d":"1986-07-28","v":1775.3},{"d":"1986-08-28","v":1898.3},{"d":"1986-09-04","v":1919.7},{"d":"1986-09-12","v":1758.7},{"d":"1986-09-28","v":1767.6},{"d":"1986-10-28","v":1877.8},{"d":"1986-11-28","v":1914.2},{"d":"1986-12-28","v":1896.0},
{"d":"1987-01-28","v":2158.0},{"d":"1987-02-28","v":2224.0},{"d":"1987-03-28","v":2304.7},{"d":"1987-04-28","v":2286.4},{"d":"1987-05-28","v":2291.6},{"d":"1987-06-28","v":2418.5},{"d":"1987-07-28","v":2572.1},{"d":"1987-08-25","v":2722.4},{"d":"1987-08-28","v":2663.0},{"d":"1987-09-28","v":2596.3},{"d":"1987-10-02","v":2641.0},{"d":"1987-10-19","v":1738.7},{"d":"1987-10-20","v":1616.2},{"d":"1987-10-28","v":1846.5},{"d":"1987-10-30","v":1993.5},{"d":"1987-11-28","v":1910.5},{"d":"1987-12-04","v":1766.7},{"d":"1987-12-28","v":1938.8},
{"d":"1988-01-08","v":1911.3},{"d":"1988-01-28","v":1958.2},{"d":"1988-02-28","v":2071.6},{"d":"1988-03-28","v":1988.1},{"d":"1988-04-28","v":2032.3},{"d":"1988-05-28","v":2031.1},{"d":"1988-06-28","v":2141.7},{"d":"1988-07-28","v":2128.7},{"d":"1988-08-28","v":2031.7},{"d":"1988-09-28","v":2112.9},{"d":"1988-10-28","v":2148.7},{"d":"1988-11-28","v":2114.5},{"d":"1988-12-28","v":2168.6},
{"d":"1989-01-28","v":2342.3},{"d":"1989-02-28","v":2258.4},{"d":"1989-03-28","v":2293.6},{"d":"1989-04-28","v":2418.8},{"d":"1989-05-28","v":2480.2},{"d":"1989-06-28","v":2440.1},{"d":"1989-07-28","v":2660.7},{"d":"1989-08-28","v":2737.3},{"d":"1989-09-28","v":2692.8},{"d":"1989-10-09","v":2791.4},{"d":"1989-10-13","v":2569.3},{"d":"1989-10-28","v":2645.1},{"d":"1989-11-28","v":2706.3},{"d":"1989-12-28","v":2753.2},
{"d":"1990-01-28","v":2590.5},{"d":"1990-02-28","v":2627.3},{"d":"1990-03-28","v":2707.2},{"d":"1990-04-28","v":2656.8},{"d":"1990-05-28","v":2876.7},{"d":"1990-06-28","v":2880.7},{"d":"1990-07-16","v":2999.8},{"d":"1990-07-28","v":2905.2},{"d":"1990-08-28","v":2614.4},{"d":"1990-09-28","v":2452.5},{"d":"1990-10-11","v":2365.1},{"d":"1990-10-28","v":2442.3},{"d":"1990-11-28","v":2559.7},{"d":"1990-12-28","v":2633.7},
{"d":"1991-01-09","v":2470.3},{"d":"1991-01-28","v":2736.4},{"d":"1991-02-28","v":2882.2},{"d":"1991-03-28","v":2913.9},{"d":"1991-04-28","v":2887.9},{"d":"1991-05-28","v":3027.5},{"d":"1991-06-28","v":2906.8},{"d":"1991-07-28","v":3024.8},{"d":"1991-08-28","v":3043.6},{"d":"1991-09-28","v":3016.8},{"d":"1991-10-28","v":3069.1},{"d":"1991-11-28","v":2894.7},{"d":"1991-12-10","v":2863.8},{"d":"1991-12-28","v":3168.8},
{"d":"1992-01-28","v":3223.4},{"d":"1992-02-28","v":3267.7},{"d":"1992-03-28","v":3235.5},{"d":"1992-04-28","v":3359.1},{"d":"1992-05-28","v":3396.9},{"d":"1992-06-28","v":3318.5},{"d":"1992-07-28","v":3393.8},{"d":"1992-08-28","v":3257.4},{"d":"1992-09-28","v":3271.7},{"d":"1992-10-09","v":3136.6},{"d":"1992-10-28","v":3226.3},{"d":"1992-11-28","v":3305.2},{"d":"1992-12-28","v":3301.1},
{"d":"1993-01-28","v":3310.0},{"d":"1993-02-28","v":3370.8},{"d":"1993-03-28","v":3435.1},{"d":"1993-04-28","v":3427.6},{"d":"1993-05-28","v":3527.4},{"d":"1993-06-28","v":3516.1},{"d":"1993-07-28","v":3539.5},{"d":"1993-08-28","v":3651.3},{"d":"1993-09-28","v":3555.1},{"d":"1993-10-28","v":3680.6},{"d":"1993-11-28","v":3684.0},{"d":"1993-12-28","v":3754.1},
{"d":"1994-01-28","v":3978.4},{"d":"1994-02-28","v":3832.0},{"d":"1994-03-28","v":3636.0},{"d":"1994-04-04","v":3593.4},{"d":"1994-04-28","v":3681.7},{"d":"1994-05-28","v":3758.4},{"d":"1994-06-28","v":3625.0},{"d":"1994-07-28","v":3764.5},{"d":"1994-08-28","v":3913.4},{"d":"1994-09-28","v":3843.2},{"d":"1994-10-28","v":3908.1},{"d":"1994-11-28","v":3739.2},{"d":"1994-12-28","v":3834.4},
{"d":"1995-01-28","v":3843.9},{"d":"1995-02-28","v":4011.1},{"d":"1995-03-28","v":4157.7},{"d":"1995-04-28","v":4321.3},{"d":"1995-05-28","v":4465.1},{"d":"1995-06-28","v":4556.1},{"d":"1995-07-28","v":4708.5},{"d":"1995-08-28","v":4610.6},{"d":"1995-09-28","v":4789.1},{"d":"1995-10-28","v":4755.5},{"d":"1995-11-28","v":5074.5},{"d":"1995-12-28","v":5117.1},
{"d":"1996-01-28","v":5395.3},{"d":"1996-02-28","v":5485.6},{"d":"1996-03-28","v":5587.1},{"d":"1996-04-28","v":5569.1},{"d":"1996-05-28","v":5643.2},{"d":"1996-06-28","v":5654.6},{"d":"1996-07-16","v":5346.6},{"d":"1996-07-28","v":5528.9},{"d":"1996-08-28","v":5616.2},{"d":"1996-09-28","v":5882.2},{"d":"1996-10-28","v":6029.4},{"d":"1996-11-28","v":6521.7},{"d":"1996-12-28","v":6448.3},
{"d":"1997-01-28","v":6813.1},{"d":"1997-02-28","v":6877.7},{"d":"1997-03-11","v":7079.4},{"d":"1997-03-28","v":6583.5},{"d":"1997-04-11","v":6391.7},{"d":"1997-04-28","v":7009.0},{"d":"1997-05-28","v":7331.0},{"d":"1997-06-28","v":7672.8},{"d":"1997-07-28","v":8222.6},{"d":"1997-08-06","v":8259.3},{"d":"1997-08-28","v":7622.4},{"d":"1997-09-28","v":7945.3},{"d":"1997-10-07","v":8178.3},{"d":"1997-10-27","v":7161.2},{"d":"1997-10-28","v":7498.3},{"d":"1997-11-28","v":7823.1},{"d":"1997-12-28","v":7908.3},
{"d":"1998-01-28","v":7906.5},{"d":"1998-02-28","v":8545.7},{"d":"1998-03-28","v":8799.8},{"d":"1998-04-28","v":9063.4},{"d":"1998-05-28","v":8900.0},{"d":"1998-06-28","v":8952.0},{"d":"1998-07-17","v":9338.0},{"d":"1998-07-28","v":8883.3},{"d":"1998-08-28","v":8051.7},{"d":"1998-08-31","v":7539.1},{"d":"1998-09-28","v":7842.6},{"d":"1998-10-08","v":7731.9},{"d":"1998-10-28","v":8592.1},{"d":"1998-11-28","v":9116.6},{"d":"1998-12-28","v":9181.4},
{"d":"1999-01-28","v":9358.8},{"d":"1999-02-28","v":9306.6},{"d":"1999-03-28","v":9786.2},{"d":"1999-04-28","v":10789.0},{"d":"1999-05-13","v":11107.2},{"d":"1999-05-28","v":10559.7},{"d":"1999-06-28","v":10970.8},{"d":"1999-07-28","v":10655.2},{"d":"1999-08-25","v":11326.0},{"d":"1999-08-28","v":10829.3},{"d":"1999-09-28","v":10337.0},{"d":"1999-10-15","v":10019.7},{"d":"1999-10-28","v":10729.9},{"d":"1999-11-28","v":10877.8},{"d":"1999-12-28","v":11497.1},
{"d":"2000-01-14","v":11723.0},{"d":"2000-01-28","v":10940.5},{"d":"2000-02-28","v":10128.3},{"d":"2000-03-07","v":9796.0},{"d":"2000-03-28","v":10921.9},{"d":"2000-04-11","v":11287.1},{"d":"2000-04-28","v":10733.9},{"d":"2000-05-28","v":10522.3},{"d":"2000-06-28","v":10447.9},{"d":"2000-07-28","v":10522.0},{"d":"2000-08-28","v":11215.1},{"d":"2000-09-28","v":10650.9},{"d":"2000-10-18","v":9975.0},{"d":"2000-10-28","v":10971.1},{"d":"2000-11-28","v":10414.5},{"d":"2000-12-28","v":10788.0},
{"d":"2001-01-28","v":10887.4},{"d":"2001-02-28","v":10495.3},{"d":"2001-03-22","v":9389.5},{"d":"2001-03-28","v":9878.8},{"d":"2001-04-28","v":10735.0},{"d":"2001-05-21","v":11337.9},{"d":"2001-05-28","v":10911.9},{"d":"2001-06-28","v":10502.4},{"d":"2001-07-28","v":10522.8},{"d":"2001-08-28","v":9949.8},{"d":"2001-09-10","v":9605.5},{"d":"2001-09-21","v":8235.8},{"d":"2001-09-28","v":8847.6},{"d":"2001-10-28","v":9075.1},{"d":"2001-11-28","v":9851.6},{"d":"2001-12-28","v":10021.5},
{"d":"2002-01-28","v":9920.0},{"d":"2002-02-28","v":10106.1},{"d":"2002-03-19","v":10635.3},{"d":"2002-03-28","v":10403.9},{"d":"2002-04-28","v":9946.2},{"d":"2002-05-28","v":9925.3},{"d":"2002-06-28","v":9243.3},{"d":"2002-07-23","v":7702.3},{"d":"2002-07-28","v":8736.6},{"d":"2002-08-28","v":8663.5},{"d":"2002-09-28","v":7591.9},{"d":"2002-10-09","v":7286.3},{"d":"2002-10-28","v":8397.0},{"d":"2002-11-27","v":8931.7},{"d":"2002-12-28","v":8341.6},
{"d":"2003-01-28","v":8053.8},{"d":"2003-02-28","v":7891.1},{"d":"2003-03-11","v":7524.1},{"d":"2003-03-28","v":7992.1},{"d":"2003-04-28","v":8480.1},{"d":"2003-05-28","v":8850.3},{"d":"2003-06-28","v":8985.4},{"d":"2003-07-28","v":9233.8},{"d":"2003-08-28","v":9415.8},{"d":"2003-09-28","v":9275.1},{"d":"2003-10-28","v":9801.1},{"d":"2003-11-28","v":9782.5},{"d":"2003-12-28","v":10453.9},
{"d":"2004-01-28","v":10488.1},{"d":"2004-02-11","v":10737.7},{"d":"2004-02-28","v":10583.9},{"d":"2004-03-28","v":10357.7},{"d":"2004-04-28","v":10225.6},{"d":"2004-05-28","v":10188.5},{"d":"2004-06-28","v":10435.5},{"d":"2004-07-28","v":10139.7},{"d":"2004-08-28","v":10173.9},{"d":"2004-09-28","v":10080.3},{"d":"2004-10-25","v":9750.0},{"d":"2004-10-28","v":10027.5},{"d":"2004-11-28","v":10428.0},{"d":"2004-12-28","v":10783.0},
{"d":"2005-01-28","v":10489.9},{"d":"2005-02-28","v":10766.2},{"d":"2005-03-04","v":10940.6},{"d":"2005-03-28","v":10503.8},{"d":"2005-04-20","v":10012.4},{"d":"2005-04-28","v":10192.5},{"d":"2005-05-28","v":10467.5},{"d":"2005-06-28","v":10275.0},{"d":"2005-07-28","v":10640.9},{"d":"2005-08-28","v":10481.6},{"d":"2005-09-28","v":10568.7},{"d":"2005-10-28","v":10440.1},{"d":"2005-11-28","v":10805.9},{"d":"2005-12-28","v":10717.5},
{"d":"2006-01-28","v":10864.9},{"d":"2006-02-28","v":10993.4},{"d":"2006-03-28","v":11109.3},{"d":"2006-04-28","v":11367.1},{"d":"2006-05-10","v":11642.7},{"d":"2006-05-28","v":11168.3},{"d":"2006-06-13","v":10706.1},{"d":"2006-06-28","v":11150.2},{"d":"2006-07-28","v":11185.7},{"d":"2006-08-28","v":11381.2},{"d":"2006-09-28","v":11679.1},{"d":"2006-10-28","v":12080.7},{"d":"2006-11-28","v":12221.9},{"d":"2006-12-28","v":12463.2},
{"d":"2007-01-28","v":12621.7},{"d":"2007-02-20","v":12786.6},{"d":"2007-03-05","v":12050.4},{"d":"2007-03-28","v":12354.4},{"d":"2007-04-28","v":13062.9},{"d":"2007-05-28","v":13627.6},{"d":"2007-06-28","v":13408.6},{"d":"2007-07-19","v":14000.4},{"d":"2007-07-28","v":13212.0},{"d":"2007-08-16","v":12845.8},{"d":"2007-08-28","v":13357.7},{"d":"2007-09-28","v":13895.6},{"d":"2007-10-09","v":14164.5},{"d":"2007-10-28","v":13930.0},{"d":"2007-11-26","v":12743.4},{"d":"2007-12-10","v":13727.0},{"d":"2007-12-28","v":13264.8},
{"d":"2008-01-02","v":13044.0},{"d":"2008-01-08","v":12589.1},{"d":"2008-01-14","v":12778.2},{"d":"2008-01-16","v":12466.16}
]},
"layer": [
{
"data": {"name": "dow"},
"mark": {"type": "line", "color": "#2A3492", "strokeWidth": 3.1, "strokeJoin": "round", "clip": false},
"encoding": {
"x": {"field": "d", "type": "temporal",
"scale": {"domain": [{"year": 1920, "month": 1, "date": 1}, {"year": 2017, "month": 4, "date": 27}], "nice": false},
"axis": {"title": null, "orient": "bottom",
"values": [{"year":1925,"month":1,"date":1},{"year":1930,"month":1,"date":1},{"year":1935,"month":1,"date":1},{"year":1940,"month":1,"date":1},{"year":1945,"month":1,"date":1},{"year":1950,"month":1,"date":1},{"year":1955,"month":1,"date":1},{"year":1960,"month":1,"date":1},{"year":1965,"month":1,"date":1},{"year":1970,"month":1,"date":1},{"year":1975,"month":1,"date":1},{"year":1980,"month":1,"date":1},{"year":1985,"month":1,"date":1},{"year":1990,"month":1,"date":1},{"year":1995,"month":1,"date":1},{"year":2000,"month":1,"date":1},{"year":2005,"month":1,"date":1}],
"labelExpr": "\"'\" + timeFormat(datum.value, '%y')",
"grid": true, "gridColor": "#cccccc", "gridDash": [2, 2], "gridWidth": 1,
"domainColor": "#555555", "domainWidth": 1.6,
"tickColor": "#333333", "tickSize": 8, "tickWidth": 1.3,
"labelFont": "Liberation Sans", "labelFontSize": 19, "labelColor": "#1a1a1a", "labelPadding": 3,
"labelFlush": false, "labelOverlap": false}},
"y": {"field": "v", "type": "quantitative",
"scale": {"type": "log", "domain": [40.57, 16010], "nice": false},
"axis": {"title": null, "orient": "right",
"values": [2000, 4000, 6000, 8000, 10000, 12000, 14000],
"labelExpr": "datum.value == 12000 ? '' : format(datum.value, ',.2f')",
"grid": true, "gridColor": "#cccccc", "gridDash": [2, 2], "gridWidth": 1,
"gridOpacity": {"condition": {"test": "datum.value > 13000", "value": 0}, "value": 1},
"domainColor": "#555555", "domainWidth": 1.6,
"tickColor": "#333333", "tickSize": 5, "tickWidth": 1.3,
"labelFont": "Liberation Sans", "labelFontSize": 19, "labelColor": "#1a1a1a", "labelPadding": 2,
"labelFlush": false, "labelOverlap": false}}
}
},
{
"data": {"values": [{}]},
"mark": {"type": "rect", "filled": false, "stroke": "#3a3a3a", "strokeWidth": 2.5, "clip": false},
"encoding": {
"x": {"datum": {"year": 1918, "month": 3, "date": 18}, "type": "temporal"},
"x2": {"datum": {"year": 2027, "month": 5, "date": 22}},
"y": {"datum": 18040, "type": "quantitative"},
"y2": {"datum": 26.77}
}
},
{
"data": {"values": [{}]},
"mark": {"type": "rect", "color": "#2E3592", "clip": false},
"encoding": {
"x": {"datum": {"year": 2017, "month": 4, "date": 27}, "type": "temporal"},
"x2": {"datum": {"year": 2025, "month": 9, "date": 9}},
"y": {"datum": 13560, "type": "quantitative"},
"y2": {"datum": 10965}
}
},
{
"data": {"name": "dow"},
"transform": [{"filter": "datum.v == 12466.16"}],
"mark": {"type": "text", "color": "#EEEEFF", "font": "Liberation Sans", "fontSize": 19, "align": "center", "baseline": "middle", "dy": 2, "clip": false},
"encoding": {
"x": {"datum": {"year": 2021, "month": 9, "date": 15}, "type": "temporal"},
"y": {"field": "v", "type": "quantitative"},
"text": {"field": "v", "type": "quantitative", "format": ",.2f"}
}
}
]
}
